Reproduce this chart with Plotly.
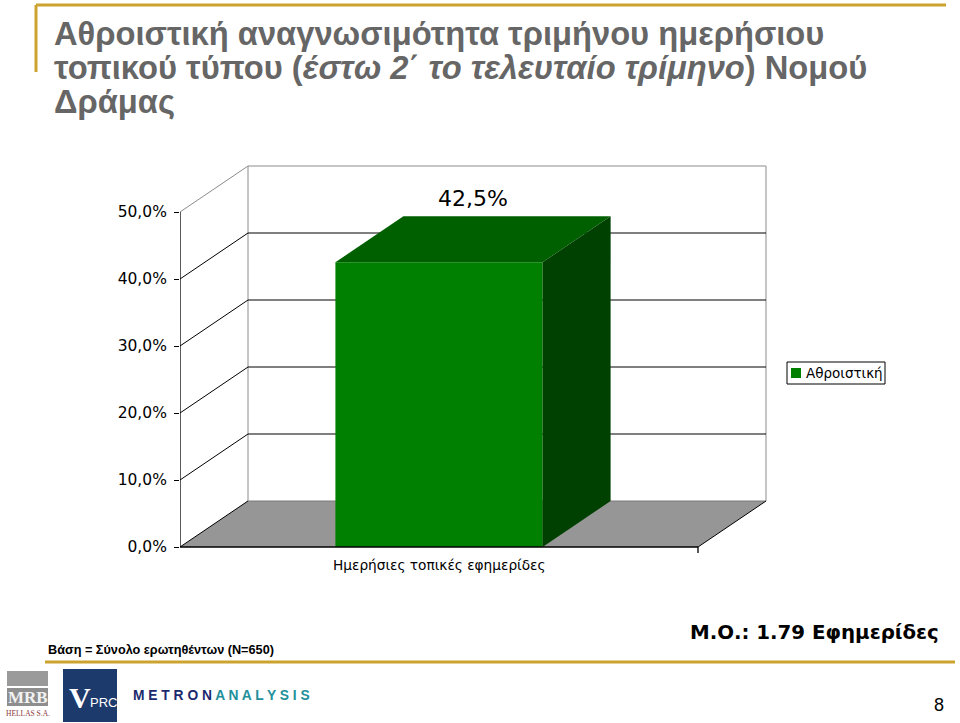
import plotly.graph_objects as go

# ---------------- data ----------------
categories = ["Ημερήσιες τοπικές εφημερίδες"]
series_name = "Αθροιστική"
values = [42.5]
tick_vals = [0, 10, 20, 30, 40, 50]
tick_text = ["0,0%", "10,0%", "20,0%", "30,0%", "40,0%", "50,0%"]
title_lines = [
    "Αθροιστική αναγνωσιμότητα τριμήνου ημερήσιου",
    "τοπικού τύπου (<i>έστω 2΄ το τελευταίο τρίμηνο</i>) Νομού",
    "Δράμας",
]
base_note = "Βάση = Σύνολο ερωτηθέντων (N=650)"
mean_note = "Μ.Ο.: 1.79 Εφημερίδες"
page_no = "8"

# ---------------- layout geometry ----------------
W, H = 960, 723
L, R, T, B = 180, 160, 160, 163
PW, PH = W - L - R, H - T - B
X_SCALE = 518.0      # px per category slot
Y_SCALE = 6.7        # px per percent point
Y0_PX = 547.0        # pixel of 0 %
DX = 68.0 / X_SCALE  # depth offset (x units)
DY = 46.0 / Y_SCALE  # depth offset (y units)
XMAX = 1.0
YMAX = 50.0
BAR_W = 0.4

x_range = [0, PW / X_SCALE]
y_range = [(Y0_PX - (T + PH)) / Y_SCALE, (Y0_PX - T) / Y_SCALE]


def px(x):
    return (x - L) / PW


def py(y):
    return (T + PH - y) / PH


GREEN = "#008000"
GREEN_TOP = "#006000"
GREEN_SIDE = "#004000"
FLOOR = "#969696"
GRAY_LINE = "#8c8c8c"
GOLD = "#CCA32E"

fig = go.Figure()

shapes = []
# floor
shapes.append(dict(type="path", xref="x", yref="y", layer="below",
                   path=f"M0,0 L{DX},{DY} L{XMAX+DX},{DY} L{XMAX},0 Z",
                   fillcolor=FLOOR, line=dict(width=0)))
shapes.append(dict(type="line", xref="x", yref="y", layer="below",
                   x0=DX, y0=DY, x1=XMAX + DX, y1=DY, line=dict(color="#7a7a7a", width=1)))
for xv in (DX, XMAX + DX):
    shapes.append(dict(type="line", xref="x", yref="y", layer="below",
                       x0=xv, y0=DY, x1=xv, y1=YMAX + DY, line=dict(color=GRAY_LINE, width=1)))
for t in tick_vals[1:]:
    col = GRAY_LINE if t == YMAX else "black"
    shapes.append(dict(type="line", xref="x", yref="y", layer="below",
                       x0=DX, y0=t + DY, x1=XMAX + DX, y1=t + DY, line=dict(color=col, width=1)))
    shapes.append(dict(type="line", xref="x", yref="y", layer="below",
                       x0=0, y0=t, x1=DX, y1=t + DY, line=dict(color=col, width=1)))
shapes.append(dict(type="line", xref="x", yref="y", layer="below",
                   x0=0, y0=0, x1=DX, y1=DY, line=dict(color="black", width=1)))
shapes.append(dict(type="line", xref="x", yref="y", layer="below",
                   x0=XMAX, y0=0, x1=XMAX + DX, y1=DY, line=dict(color="black", width=1)))
shapes.append(dict(type="line", xref="x", yref="y",
                   x0=0, y0=0, x1=0, y1=YMAX, line=dict(color="black", width=1.3)))
shapes.append(dict(type="line", xref="x", yref="y",
                   x0=0, y0=0, x1=XMAX, y1=0, line=dict(color="black", width=1.3)))
shapes.append(dict(type="line", xref="x", yref="y",
                   x0=XMAX, y0=0, x1=XMAX, y1=-0.9, line=dict(color="black", width=1.3)))

# gold decorative lines
shapes.append(dict(type="line", xref="paper", yref="paper",
                   x0=px(36), y0=py(5), x1=px(946), y1=py(5), line=dict(color=GOLD, width=3)))
shapes.append(dict(type="line", xref="paper", yref="paper",
                   x0=px(36), y0=py(5), x1=px(36), y1=py(72), line=dict(color=GOLD, width=3)))
shapes.append(dict(type="line", xref="paper", yref="paper",
                   x0=px(45), y0=py(662), x1=px(955), y1=py(662), line=dict(color=GOLD, width=3)))

# logos (decorative)
shapes.append(dict(type="rect", xref="paper", yref="paper",
                   x0=px(7), y0=py(671), x1=px(48), y1=py(686), fillcolor="#9a9a9a", line=dict(width=0)))
shapes.append(dict(type="rect", xref="paper", yref="paper",
                   x0=px(7), y0=py(688), x1=px(48), y1=py(706), fillcolor="#8e8e8e", line=dict(width=0)))
shapes.append(dict(type="rect", xref="paper", yref="paper",
                   x0=px(63), y0=py(669), x1=px(117), y1=py(722), fillcolor="#1d3a6c", line=dict(width=0)))

# legend (box + swatch)
shapes.append(dict(type="rect", xref="paper", yref="paper",
                   x0=px(787), y0=py(362), x1=px(885), y1=py(384),
                   fillcolor="white", line=dict(color="black", width=1)))
shapes.append(dict(type="rect", xref="paper", yref="paper",
                   x0=px(791), y0=py(368), x1=px(801), y1=py(378),
                   fillcolor=GREEN, line=dict(width=0)))

# ---------------- traces ----------------
for cat_i, (cat, v) in enumerate(zip(categories, values)):
    xc = cat_i + 0.5
    x0, x1 = xc - BAR_W / 2, xc + BAR_W / 2
    fig.add_trace(go.Bar(x=[xc], y=[v], width=[BAR_W], name=series_name,
                         marker=dict(color=GREEN, line=dict(width=0)),
                         showlegend=False, hoverinfo="skip"))
    fig.add_trace(go.Scatter(x=[x0, x1, x1 + DX, x0 + DX, x0], y=[v, v, v + DY, v + DY, v],
                             mode="lines", fill="toself", fillcolor=GREEN_TOP,
                             line=dict(width=0, color=GREEN_TOP), showlegend=False, hoverinfo="skip"))
    fig.add_trace(go.Scatter(x=[x1, x1 + DX, x1 + DX, x1, x1], y=[0, DY, v + DY, v, 0],
                             mode="lines", fill="toself", fillcolor=GREEN_SIDE,
                             line=dict(width=0, color=GREEN_SIDE), showlegend=False, hoverinfo="skip"))

annotations = []
for cat_i, (cat, v) in enumerate(zip(categories, values)):
    xc = cat_i + 0.5
    annotations.append(dict(x=xc + DX / 2, y=v + DY, xref="x", yref="y",
                            text=f"{v:.1f}%".replace(".", ","), showarrow=False,
                            yanchor="bottom", yshift=3,
                            font=dict(family="DejaVu Sans", size=22, color="black")))
    annotations.append(dict(x=xc, y=0, xref="x", yref="y", text=cat, showarrow=False,
                            yanchor="top", yshift=-8,
                            font=dict(family="DejaVu Sans", size=13.7, color="black")))

annotations.append(dict(x=px(804), y=py(373), xref="paper", yref="paper", text=series_name,
                        showarrow=False, xanchor="left", yanchor="middle",
                        font=dict(family="DejaVu Sans", size=13.5, color="black")))

# title
for i, line in enumerate(title_lines):
    annotations.append(dict(x=px(52), y=py(33 + 34 * i), xref="paper", yref="paper",
                            text=f"<b>{line}</b>", showarrow=False, xanchor="left", yanchor="middle",
                            font=dict(family="Liberation Sans, Arial", size=32.7, color="#666666")))

annotations.append(dict(x=px(46), y=py(650), xref="paper", yref="paper", text=f"<b>{base_note}</b>",
                        showarrow=False, xanchor="left", yanchor="middle",
                        font=dict(family="Liberation Sans Narrow, Liberation Sans", size=12.7, color="black")))
annotations.append(dict(x=px(941), y=py(632), xref="paper", yref="paper", text=f"<b>{mean_note}</b>",
                        showarrow=False, xanchor="right", yanchor="middle",
                        font=dict(family="DejaVu Sans", size=19.8, color="black")))
annotations.append(dict(x=px(946), y=py(705), xref="paper", yref="paper", text=page_no,
                        showarrow=False, xanchor="right", yanchor="middle",
                        font=dict(family="Liberation Sans, Arial", size=18, color="black")))
# logo texts
annotations.append(dict(x=px(27.5), y=py(697), xref="paper", yref="paper", text="<b>MRB</b>",
                        showarrow=False, xanchor="center", yanchor="middle",
                        font=dict(family="Liberation Serif", size=17, color="#f2f2f2")))
annotations.append(dict(x=px(27.5), y=py(713), xref="paper", yref="paper", text="HELLAS S.A.",
                        showarrow=False, xanchor="center", yanchor="middle",
                        font=dict(family="Liberation Serif", size=7.5, color="#8b3b3b")))
annotations.append(dict(x=px(67), y=py(697), xref="paper", yref="paper", text="<b>V</b>",
                        showarrow=False, xanchor="left", yanchor="middle",
                        font=dict(family="Liberation Serif", size=30, color="white")))
annotations.append(dict(x=px(88), y=py(702), xref="paper", yref="paper", text="PRC",
                        showarrow=False, xanchor="left", yanchor="middle",
                        font=dict(family="Liberation Sans Narrow, Liberation Sans", size=13, color="white")))
annotations.append(dict(x=px(131), y=py(695), xref="paper", yref="paper",
                        text="<b><span style='color:#1b2a6e'>M E T R O N </span>"
                             "<span style='color:#22909a'>A N A L Y S I S</span></b>",
                        showarrow=False, xanchor="left", yanchor="middle",
                        font=dict(family="Liberation Sans, Arial", size=13.8)))

fig.update_layout(
    width=W, height=H,
    margin=dict(l=L, r=R, t=T, b=B, pad=0, autoexpand=False),
    paper_bgcolor="white", plot_bgcolor="rgba(0,0,0,0)",
    xaxis=dict(range=x_range, visible=False, fixedrange=True),
    yaxis=dict(range=y_range, tickvals=tick_vals, ticktext=tick_text,
               showgrid=False, zeroline=False, showline=False,
               ticks="outside", ticklen=5, tickcolor="black", tickwidth=1.3,
               ticklabelstandoff=4,
               tickfont=dict(family="DejaVu Sans", size=15.5, color="black"), fixedrange=True),
    shapes=shapes,
    annotations=annotations,
    showlegend=False,
    barmode="overlay",
)

fig.write_html("out.html")
